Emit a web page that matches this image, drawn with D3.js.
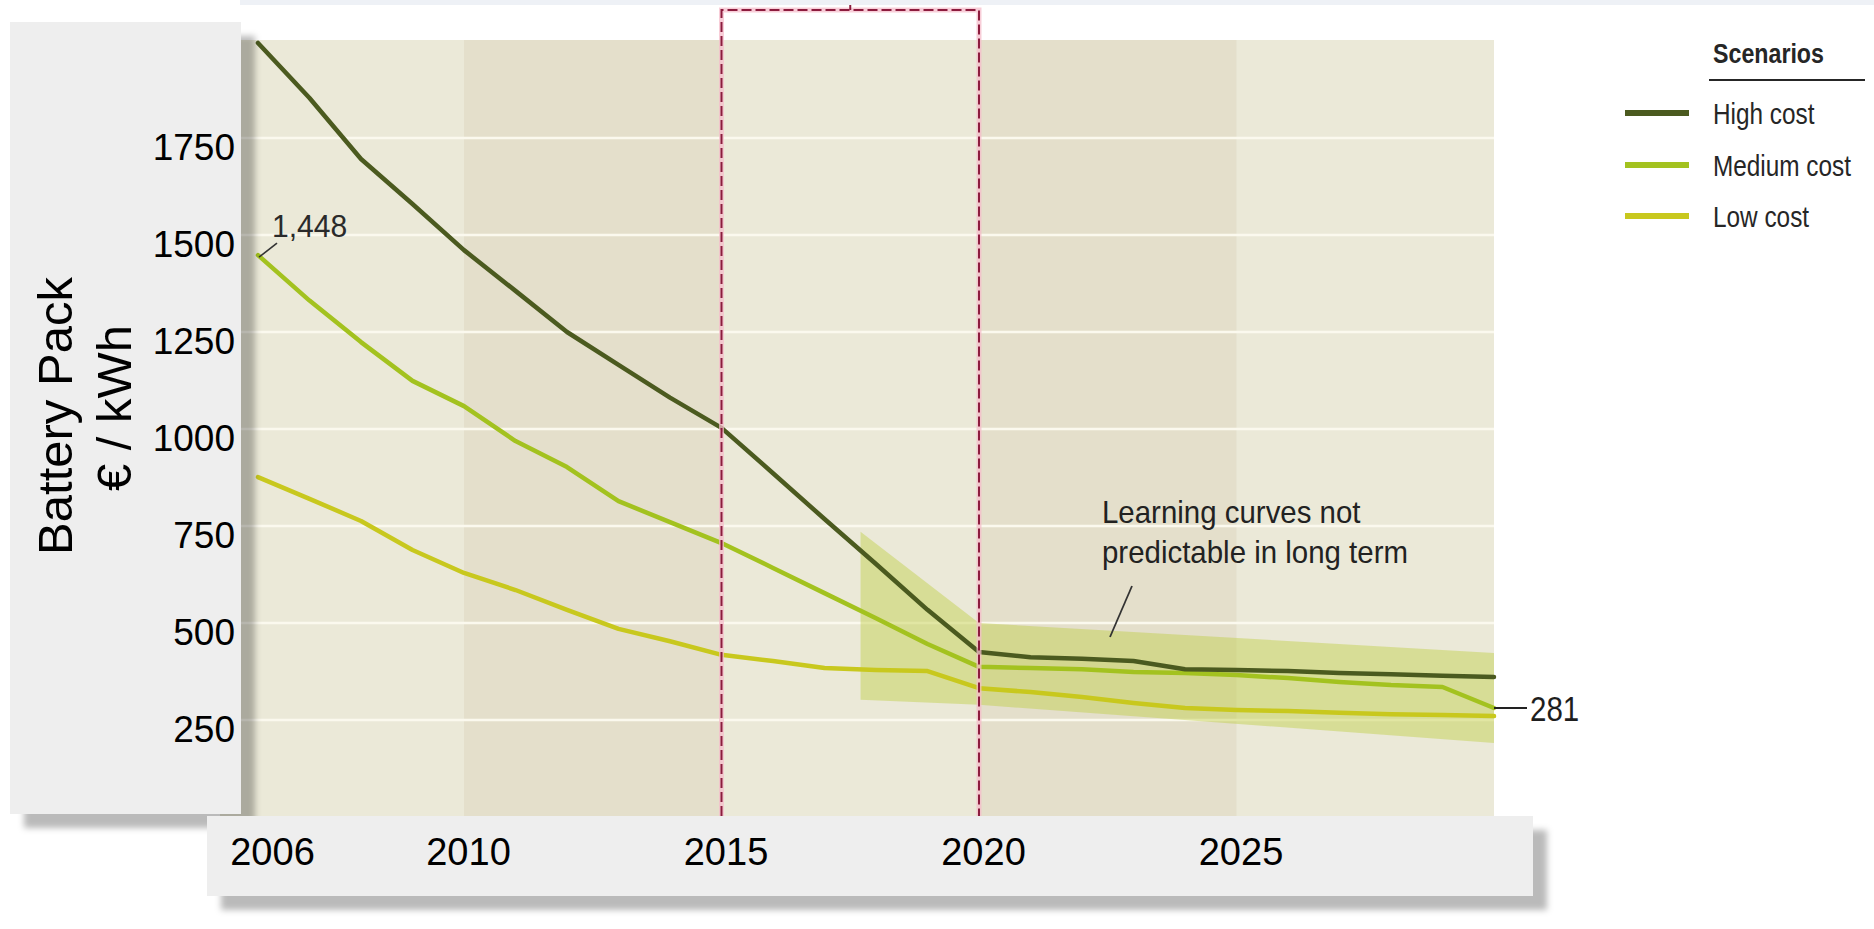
<!DOCTYPE html>
<html>
<head>
<meta charset="utf-8">
<title>Battery pack cost scenarios</title>
<script src="https://cdn.jsdelivr.net/npm/d3@7"></script>
<style>
  html, body { margin: 0; padding: 0; background: #ffffff; }
  svg { display: block; font-family: "Liberation Sans", Arial, Helvetica, sans-serif; }
</style>
</head>
<body>
<svg id="chart" width="1874" height="929"></svg>
<script>
// ---- data -------------------------------------------------------------
const years = [2006, 2007, 2008, 2009, 2010, 2011, 2012, 2013, 2014, 2015, 2016, 2017,
               2018, 2019, 2020, 2021, 2022, 2023, 2024, 2025, 2026, 2027, 2028, 2029, 2030];

const highCost   = [1995, 1853, 1696, 1580, 1461, 1356, 1250, 1165, 1081, 1003, 886, 768,
                    652, 534, 425, 412, 408, 402, 381, 379, 376, 371, 368, 364, 361];
const mediumCost = [1448, 1331, 1224, 1124, 1059, 969, 902, 814, 760, 706, 642, 577,
                    512, 446, 387, 384, 381, 374, 371, 366, 358, 348, 340, 335, 281];
const lowCost    = [876, 820, 763, 688, 629, 585, 534, 485, 453, 418, 402, 384,
                    379, 376, 332, 322, 309, 294, 281, 276, 273, 269, 265, 263, 260];

// uncertainty range of the learning curves
const bandYears = [2017.7, 2020, 2030];
const bandUpper = [735, 500, 423];
const bandLower = [302, 289, 191];

const yTicks = [250, 500, 750, 1000, 1250, 1500, 1750];
const xTicks = [2006, 2010, 2015, 2020, 2025];
const shadedSpans = [[2010, 2015], [2020, 2025]];
const focusSpan = [2015, 2020];

const seriesNames = ["High cost", "Medium cost", "Low cost"];
const seriesColors = ["#4b5a1f", "#a3c21f", "#c8c81e"];
const seriesValues = [highCost, mediumCost, lowCost];

const startLabel = { series: 1, index: 0 };                    // 1,448
const endLabel   = { series: 1, index: years.length - 1 };     // 281

// ---- layout -------------------------------------------------------------
const svg = d3.select("#chart");
const x = d3.scaleLinear().domain([2006, 2030]).range([258, 1494]);
const y = d3.scaleLinear().domain([0, 2000]).range([817, 41]);
const plotLeft = 220, plotTop = 40, plotBottom = 832;

const defs = svg.append("defs");
const shadow = defs.append("filter").attr("id", "panelShadow")
  .attr("x", "-5%").attr("y", "-5%").attr("width", "115%").attr("height", "140%");
shadow.append("feDropShadow")
  .attr("dx", 14).attr("dy", 14).attr("stdDeviation", 3)
  .attr("flood-color", "#000").attr("flood-opacity", 0.27);

// faint strip along the top edge
svg.append("rect").attr("x", 240).attr("y", 0).attr("width", 1634).attr("height", 5)
  .attr("fill", "#eef1f6");

// ---- plot background ------------------------------------------------------
const plot = svg.append("g");
plot.append("rect")
  .attr("x", plotLeft).attr("y", plotTop)
  .attr("width", x(2030) - plotLeft).attr("height", plotBottom - plotTop)
  .attr("fill", "#ebe9d8");
plot.selectAll("rect.span").data(shadedSpans).join("rect")
  .attr("class", "span")
  .attr("x", d => x(d[0])).attr("y", plotTop)
  .attr("width", d => x(d[1]) - x(d[0])).attr("height", plotBottom - plotTop)
  .attr("fill", "#e4dfcb");

plot.selectAll("line.grid").data(yTicks).join("line")
  .attr("class", "grid")
  .attr("x1", plotLeft).attr("x2", x(2030))
  .attr("y1", d => y(d)).attr("y2", d => y(d))
  .attr("stroke", "#fbf9ee").attr("stroke-width", 2.5);

// ---- uncertainty band -----------------------------------------------------
const bandData = bandYears.map((yr, i) => ({ yr, lo: bandLower[i], hi: bandUpper[i] }));
plot.append("path")
  .datum(bandData)
  .attr("d", d3.area().x(d => x(d.yr)).y0(d => y(d.lo)).y1(d => y(d.hi)))
  .attr("fill", "#bccd3c").attr("fill-opacity", 0.42);

// ---- scenario lines -------------------------------------------------------
const line = d3.line().x((d, i) => x(years[i])).y(d => y(d));
plot.selectAll("path.series").data(seriesValues.slice().reverse()).join("path")
  .attr("class", "series")
  .attr("d", d => line(d))
  .attr("fill", "none")
  .attr("stroke", (d, i) => seriesColors[seriesColors.length - 1 - i])
  .attr("stroke-width", 4.5)
  .attr("stroke-linejoin", "round")
  .attr("stroke-linecap", "round");

// ---- highlighted period (dashed frame) -----------------------------------
const frameTop = 10, frameBottom = 830;
const framePath = `M${x(focusSpan[0])},${frameBottom}V${frameTop}H${x(focusSpan[1])}V${frameBottom}`;
const frame = svg.append("g");
frame.append("path").attr("d", framePath).attr("fill", "none")
  .attr("stroke", "#f6bccb").attr("stroke-width", 5).attr("stroke-opacity", 0.75);
frame.append("path").attr("d", framePath).attr("fill", "none")
  .attr("stroke", "#8c1c3e").attr("stroke-width", 2).attr("stroke-dasharray", "10,4");
const frameMid = (x(focusSpan[0]) + x(focusSpan[1])) / 2;
frame.append("line").attr("x1", frameMid).attr("x2", frameMid).attr("y1", 5).attr("y2", frameTop)
  .attr("stroke", "#8c1c3e").attr("stroke-width", 2);

// ---- text helper (horizontally condensed lettering) -----------------------
function addText(parent, tx, ty, str, opts) {
  const o = Object.assign({ size: 30, sx: 1, weight: "normal", fill: "#222", anchor: "start", baseline: "auto" }, opts || {});
  return parent.append("text")
    .attr("transform", `translate(${tx},${ty}) scale(${o.sx},1)`)
    .attr("font-size", o.size)
    .attr("font-weight", o.weight)
    .attr("fill", o.fill)
    .attr("text-anchor", o.anchor)
    .attr("dominant-baseline", o.baseline)
    .text(str);
}

// ---- value callouts ----------------------------------------------------------
const ann = svg.append("g");
const sv = seriesValues[startLabel.series][startLabel.index];
const sx0 = x(years[startLabel.index]), sy0 = y(sv);
ann.append("line").attr("x1", sx0 + 1).attr("y1", sy0 + 2).attr("x2", sx0 + 19).attr("y2", sy0 - 12)
  .attr("stroke", "#333").attr("stroke-width", 1.6);
addText(ann, sx0 + 14, sy0 - 18, d3.format(",")(sv), { size: 31, sx: 0.97, fill: "#2a2a2a" });

const ev = seriesValues[endLabel.series][endLabel.index];
const ex0 = x(years[endLabel.index]), ey0 = y(ev);
ann.append("line").attr("x1", ex0).attr("y1", ey0).attr("x2", ex0 + 33).attr("y2", ey0)
  .attr("stroke", "#222").attr("stroke-width", 2);
addText(ann, ex0 + 36, ey0 + 13, String(ev), { size: 36, sx: 0.82, fill: "#1e1e1e" });

// note on the long-term band
addText(ann, 1102, 523, "Learning curves not", { size: 31, sx: 0.95, fill: "#222" });
addText(ann, 1102, 563, "predictable in long term", { size: 31, sx: 0.95, fill: "#222" });
ann.append("line").attr("x1", 1132).attr("y1", 586).attr("x2", 1110).attr("y2", 637)
  .attr("stroke", "#333").attr("stroke-width", 1.8);

// ---- legend ----------------------------------------------------------------
const legend = svg.append("g");
addText(legend, 1713, 63, "Scenarios", { size: 27, sx: 0.86, weight: "bold", fill: "#262626" });
legend.append("line").attr("x1", 1709).attr("x2", 1865).attr("y1", 80).attr("y2", 80)
  .attr("stroke", "#262626").attr("stroke-width", 2);
const legendY = [113, 165, 216];
seriesNames.forEach((name, i) => {
  legend.append("line").attr("x1", 1625).attr("x2", 1689)
    .attr("y1", legendY[i]).attr("y2", legendY[i])
    .attr("stroke", seriesColors[i]).attr("stroke-width", 6);
  addText(legend, 1713, legendY[i] + 11, name, { size: 29, sx: 0.84, fill: "#262626" });
});

// ---- y-axis panel ----------------------------------------------------------
const yPanel = svg.append("g");
yPanel.append("rect").attr("x", 10).attr("y", 22).attr("width", 231).attr("height", 792)
  .attr("fill", "#eeeeee").attr("filter", "url(#panelShadow)");
const yAxis = yPanel.append("g")
  .attr("transform", "translate(241,0)")
  .call(d3.axisLeft(y).tickValues(yTicks).tickSize(0).tickPadding(6).tickFormat(d3.format("d")));
yAxis.select(".domain").remove();
yAxis.selectAll("text")
  .attr("font-family", "'Liberation Sans', Arial, sans-serif")
  .attr("font-size", 37).attr("fill", "#000").attr("dy", "0.57em");

yPanel.append("text")
  .attr("transform", "translate(72,416) rotate(-90)")
  .attr("text-anchor", "middle").attr("font-size", 49).attr("fill", "#000")
  .text("Battery Pack");
yPanel.append("text")
  .attr("transform", "translate(131,408) rotate(-90)")
  .attr("text-anchor", "middle").attr("font-size", 49).attr("fill", "#000")
  .text("€ / kWh");

// ---- x-axis panel ----------------------------------------------------------
const xPanel = svg.append("g");
xPanel.append("rect").attr("x", 207).attr("y", 816).attr("width", 1326).attr("height", 80)
  .attr("fill", "#eeeeee").attr("filter", "url(#panelShadow)");
const xAxis = xPanel.append("g")
  .attr("transform", "translate(0,816)")
  .call(d3.axisBottom(x).tickValues(xTicks).tickSize(0).tickPadding(22).tickFormat(d3.format("d")));
xAxis.select(".domain").remove();
xAxis.selectAll("text")
  .attr("font-family", "'Liberation Sans', Arial, sans-serif")
  .attr("font-size", 38).attr("fill", "#000")
  .attr("dx", (d, i) => i === 0 ? 14 : 4);
</script>
</body>
</html>
